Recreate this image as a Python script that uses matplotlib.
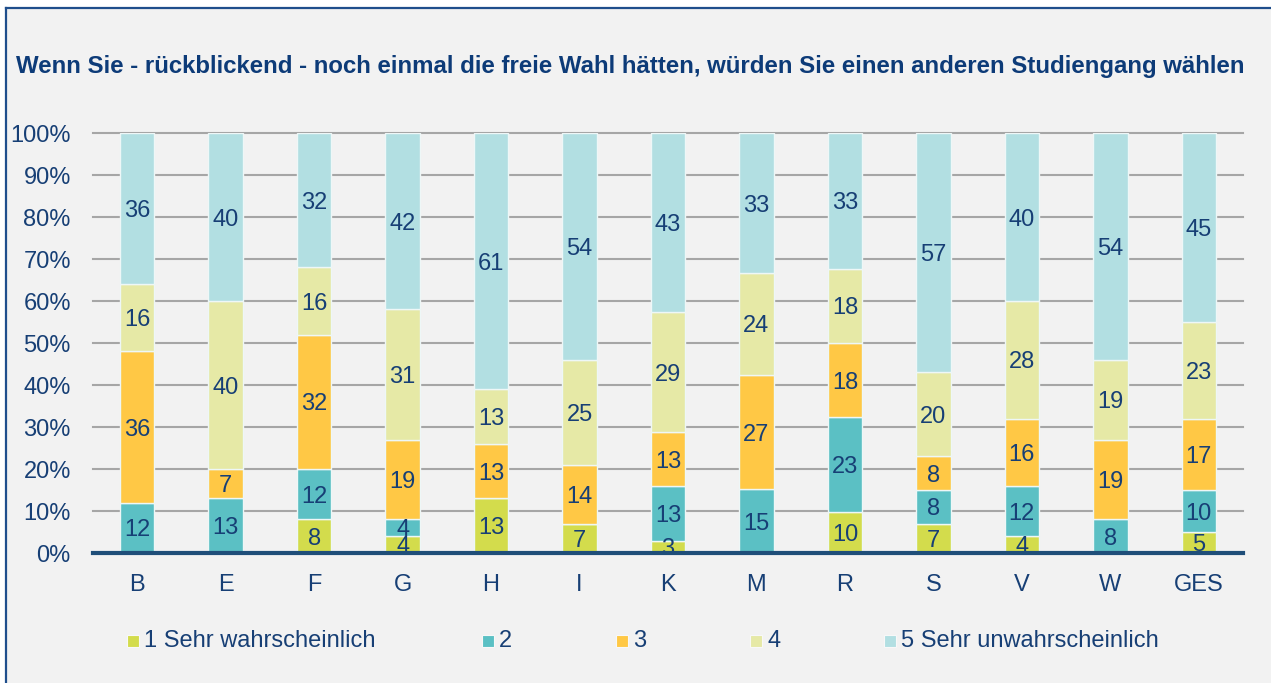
import matplotlib
matplotlib.use("Agg")
import matplotlib.pyplot as plt
from matplotlib.patches import Rectangle
from matplotlib.lines import Line2D
import numpy as np

categories = ['B', 'E', 'F', 'G', 'H', 'I', 'K', 'M', 'R', 'S', 'V', 'W', 'GES']
s1 = [0, 0, 8, 4, 13, 7, 3, 0, 10, 7, 4, 0, 5]
s2 = [12, 13, 12, 4, 0, 0, 13, 15, 23, 8, 12, 8, 10]
s3 = [36, 7, 32, 19, 13, 14, 13, 27, 18, 8, 16, 19, 17]
s4 = [16, 40, 16, 31, 13, 25, 29, 24, 18, 20, 28, 19, 23]
s5 = [36, 40, 32, 42, 61, 54, 43, 33, 33, 57, 40, 54, 45]
series = [s1, s2, s3, s4, s5]
series_names = ['1 Sehr wahrscheinlich', '2', '3', '4', '5 Sehr unwahrscheinlich']
colors = ['#d3dc4c', '#5bc0c4', '#ffc845', '#e6e9a6', '#b2dfe2']
title = 'Wenn Sie - rückblickend - noch einmal die freie Wahl hätten, würden Sie einen anderen Studiengang wählen'

plt.rcParams['font.family'] = ['Liberation Sans', 'DejaVu Sans']
TXT = '#173f75'
FS = 17
W, H = 1271, 683

fig = plt.figure(figsize=(W / 100, H / 100), dpi=100)
fig.patch.set_facecolor('white')
# panel background and border
bg = Rectangle((7 / W, 0), 1 - 7 / W, (H - 9) / H, transform=fig.transFigure,
               facecolor='#f2f2f2', edgecolor='none', zorder=-10)
fig.patches.append(bg)
fig.lines.append(Line2D([6 / W, 1], [(H - 8) / H, (H - 8) / H], transform=fig.transFigure,
                        color='#1f4e8c', lw=1.6, zorder=-5))
fig.lines.append(Line2D([6 / W, 6 / W], [0, (H - 8) / H], transform=fig.transFigure,
                        color='#1f4e8c', lw=1.6, zorder=-5))

ax = fig.add_axes([93 / W, (H - 553) / H, (1243 - 93) / W, (553 - 133) / H])
ax.set_facecolor('none')
ax.set_zorder(1)

data = np.array(series, dtype=float)
totals = data.sum(axis=0)
pct = data / totals * 100
x = np.arange(len(categories))
bottom = np.zeros(len(categories))
for i, (vals, raw) in enumerate(zip(pct, series)):
    ax.bar(x, vals, bottom=bottom, width=0.39, color=colors[i], edgecolor='#eef7f7',
           linewidth=1.0, zorder=3)
    for xi, v, b, r in zip(x, vals, bottom, raw):
        if r > 0:
            ax.text(xi, b + v / 2, str(r), ha='center', va='center_baseline', fontsize=FS,
                    color=TXT, zorder=5)
    bottom += vals

ax.set_xlim(-0.5, len(categories) - 0.5)
ax.set_ylim(0, 100)
ax.set_yticks(np.arange(0, 101, 10))
ax.set_yticklabels([f'{v}%' for v in range(0, 101, 10)])
ax.set_xticks(x)
ax.set_xticklabels(categories)
ax.tick_params(axis='both', length=0, labelsize=FS, labelcolor=TXT)
ax.tick_params(axis='y', pad=16)
ax.tick_params(axis='x', pad=15)
ax.yaxis.grid(True, color='#a6a6a6', linewidth=1.5, zorder=1)
for gl in ax.get_ygridlines():
    gl.set_clip_on(False)
ax.set_axisbelow(True)
for sp in ['top', 'right', 'left']:
    ax.spines[sp].set_visible(False)
ax.spines['bottom'].set_color('#1f4e79')
ax.spines['bottom'].set_linewidth(3)
ax.spines['bottom'].set_zorder(6)

fig.text(630.5 / W, (H - 66) / H, title, ha='center', va='center', fontsize=17.3,
         fontweight='bold', color='#0d3b78')

# legend
marker_x = [127, 482, 616, 750, 884]
ly = 641
sq = 12
for mx, name, c in zip(marker_x, series_names, colors):
    fig.patches.append(Rectangle((mx / W, (H - ly - sq / 2) / H), sq / W, sq / H,
                                 transform=fig.transFigure, facecolor=c,
                                 edgecolor='#f8f8f8', lw=0.8))
    fig.text((mx + sq + 5) / W, (H - ly) / H, name, ha='left', va='center',
             fontsize=FS, color=TXT)

fig.savefig('out.png', dpi=100)
